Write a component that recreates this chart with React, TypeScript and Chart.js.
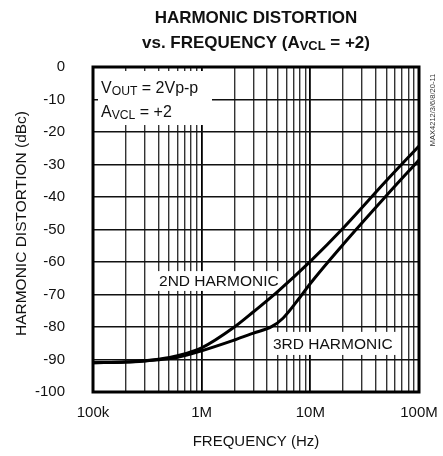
import React, { useEffect, useRef } from 'react';
import { Chart, registerables } from 'chart.js';
Chart.register(...registerables);

// ---- data ----
const freq2 = [1e5, 2e5, 3e5, 4e5, 6e5, 1e6, 2e6, 3e6, 5e6, 1e7, 2e7, 5e7, 1e8];
const db2 = [-91, -90.8, -90.4, -89.9, -88.8, -86.4, -80, -75.3, -69.1, -59.8, -49.6, -35, -24.3];
const freq3 = [1e5, 2e5, 3e5, 4e5, 6e5, 1e6, 2e6, 3e6, 4.4e6, 5.6e6, 8.1e6, 1e7, 2e7, 5e7, 1e8];
const db3 = [-91, -90.8, -90.45, -90.1, -89.3, -87.3, -84, -81.9, -79.9, -77.3, -70.7, -66.6, -54.6, -39.6, -28.6];

const xMajorTicks = [1e5, 1e6, 1e7, 1e8];
const xMajorLabels = ['100k', '1M', '10M', '100M'];
const xMultipliers = [1, 2, 3, 4, 5, 6, 7, 8, 9];
const yMin = -100;
const yMax = 0;
const yStep = 10;

const titleLine1 = 'HARMONIC DISTORTION';
const xTitle = 'FREQUENCY (Hz)';
const yTitle = 'HARMONIC DISTORTION (dBc)';
const sideNote = 'MAX4212/3/6/8/20-11';

const FONT = '"Liberation Sans", Arial, Helvetica, sans-serif';

type Part = { t: string; sub?: boolean };

function drawRich(ctx: CanvasRenderingContext2D, parts: Part[], x: number, y: number, size: number, bold: boolean, align: 'left' | 'center') {
  const w = bold ? 'bold ' : '';
  const subSize = size * 0.76;
  let total = 0;
  const widths = parts.map((p) => {
    ctx.font = `${w}${p.sub ? subSize : size}px ${FONT}`;
    const m = ctx.measureText(p.t).width;
    total += m;
    return m;
  });
  let cx = align === 'center' ? x - total / 2 : x;
  ctx.textAlign = 'left';
  ctx.textBaseline = 'alphabetic';
  parts.forEach((p, i) => {
    ctx.font = `${w}${p.sub ? subSize : size}px ${FONT}`;
    ctx.fillText(p.t, cx, p.sub ? y + size * 0.12 : y);
    cx += widths[i];
  });
}

const overlayPlugin = {
  id: 'overlay',
  beforeDatasetsDraw(chart: any) {
    const { ctx, scales } = chart;
    const xs = scales.x;
    const ys = scales.y;
    const boxes = [
      { x0: 1.112e5, x1: 1.245e6, y0: -1.23, y1: -17.85 },
      { x0: 3.88e5, x1: 5.2e6, y0: -62.8, y1: -68.9 },
      { x0: 4.26e6, x1: 6.14e7, y0: -81.5, y1: -88.6 },
    ];
    ctx.save();
    ctx.fillStyle = '#fff';
    boxes.forEach((b) => {
      const px0 = xs.getPixelForValue(b.x0);
      const px1 = xs.getPixelForValue(b.x1);
      const py0 = ys.getPixelForValue(b.y0);
      const py1 = ys.getPixelForValue(b.y1);
      ctx.fillRect(px0, py0, px1 - px0, py1 - py0);
    });
    ctx.fillStyle = '#111';
    drawRich(ctx, [{ t: 'V' }, { t: 'OUT', sub: true }, { t: ' = 2Vp-p' }], xs.getPixelForValue(1.185e5), ys.getPixelForValue(-8.0), 16, false, 'left');
    drawRich(ctx, [{ t: 'A' }, { t: 'VCL', sub: true }, { t: ' = +2' }], xs.getPixelForValue(1.185e5), ys.getPixelForValue(-15.4), 16, false, 'left');
    drawRich(ctx, [{ t: '2ND HARMONIC' }], xs.getPixelForValue(4.05e5), ys.getPixelForValue(-67.4), 15.5, false, 'left');
    drawRich(ctx, [{ t: '3RD HARMONIC' }], xs.getPixelForValue(4.53e6), ys.getPixelForValue(-86.8), 15.5, false, 'left');
    ctx.restore();
  },
  afterDraw(chart: any) {
    const { ctx, chartArea } = chart;
    const { left, right, top, bottom } = chartArea;
    ctx.save();
    ctx.strokeStyle = '#000';
    ctx.lineWidth = 3;
    ctx.strokeRect(left, top, right - left, bottom - top);

    ctx.fillStyle = '#111';
    const cx = (left + right) / 2;
    drawRich(ctx, [{ t: titleLine1 }], cx, 23, 17, true, 'center');
    drawRich(ctx, [{ t: 'vs. FREQUENCY (A' }, { t: 'VCL', sub: true }, { t: ' = +2)' }], cx, 48, 17, true, 'center');

    // y axis title
    ctx.save();
    ctx.translate(21.5, 223.5);
    ctx.rotate(-Math.PI / 2);
    ctx.font = `15.5px ${FONT}`;
    ctx.textAlign = 'center';
    ctx.textBaseline = 'middle';
    ctx.fillText(yTitle, 0, 0);
    ctx.restore();

    // side note
    ctx.save();
    ctx.translate(433, 110);
    ctx.rotate(-Math.PI / 2);
    ctx.font = `7.5px ${FONT}`;
    ctx.fillStyle = '#333';
    ctx.textAlign = 'center';
    ctx.textBaseline = 'middle';
    ctx.fillText(sideNote, 0, 0);
    ctx.restore();
    ctx.restore();
  },
};

export default function App() {
  const ref = useRef<HTMLCanvasElement | null>(null);
  useEffect(() => {
    document.body.style.margin = '0';
    const canvas = ref.current;
    if (!canvas) return;
    const gridValues: number[] = [];
    xMajorTicks.slice(0, -1).forEach((d) => xMultipliers.forEach((m) => gridValues.push(d * m)));
    gridValues.push(xMajorTicks[xMajorTicks.length - 1]);

    const chart = new Chart(canvas, {
      type: 'line',
      data: {
        datasets: [
          {
            label: '2ND HARMONIC',
            data: freq2.map((f, i) => ({ x: f, y: db2[i] })),
            borderColor: '#000',
            borderWidth: 3,
            pointRadius: 0,
            cubicInterpolationMode: 'monotone',
            fill: false,
          },
          {
            label: '3RD HARMONIC',
            data: freq3.map((f, i) => ({ x: f, y: db3[i] })),
            borderColor: '#000',
            borderWidth: 3,
            pointRadius: 0,
            cubicInterpolationMode: 'monotone',
            fill: false,
          },
        ],
      },
      options: {
        animation: false,
        responsive: false,
        maintainAspectRatio: false,
        devicePixelRatio: 1,
        layout: { padding: { top: 67, right: 24, left: 0, bottom: 0 } },
        plugins: { legend: { display: false }, tooltip: { enabled: false }, title: { display: false } },
        scales: {
          x: {
            type: 'logarithmic',
            min: xMajorTicks[0],
            max: xMajorTicks[xMajorTicks.length - 1],
            afterBuildTicks: (s: any) => {
              s.ticks = gridValues.map((v) => ({ value: v, major: xMajorTicks.includes(v) }));
            },
            afterFit: (s: any) => {
              s.height = 64;
              s.paddingLeft = 0;
              s.paddingRight = 0;
            },
            ticks: {
              autoSkip: false,
              maxRotation: 0,
              padding: 12,
              color: '#111',
              font: { family: FONT, size: 15 },
              callback: (v: any) => {
                const i = xMajorTicks.indexOf(Number(v));
                return i >= 0 ? xMajorLabels[i] : '';
              },
            },
            grid: {
              drawTicks: false,
              color: (c: any) => (c.tick && xMajorTicks.includes(c.tick.value) ? '#000' : '#333'),
              lineWidth: (c: any) => (c.tick && xMajorTicks.includes(c.tick.value) ? 1.8 : 1.4),
            },
            border: { display: false },
            title: { display: true, text: xTitle, color: '#111', font: { family: FONT, size: 15 }, padding: { top: 0, bottom: 5 } },
          },
          y: {
            type: 'linear',
            min: yMin,
            max: yMax,
            afterFit: (s: any) => {
              s.width = 93;
              s.paddingTop = 0;
              s.paddingBottom = 0;
            },
            ticks: { stepSize: yStep, padding: 28, color: '#111', font: { family: FONT, size: 15 } },
            grid: { drawTicks: false, color: '#111', lineWidth: 1.4 },
            border: { display: false },
          },
        },
      },
      plugins: [overlayPlugin],
    } as any);
    return () => chart.destroy();
  }, []);
  return (
    <div style={{ width: 443, height: 456 }}>
      <canvas ref={ref} width={443} height={456} style={{ display: 'block', width: 443, height: 456 }} />
    </div>
  );
}
